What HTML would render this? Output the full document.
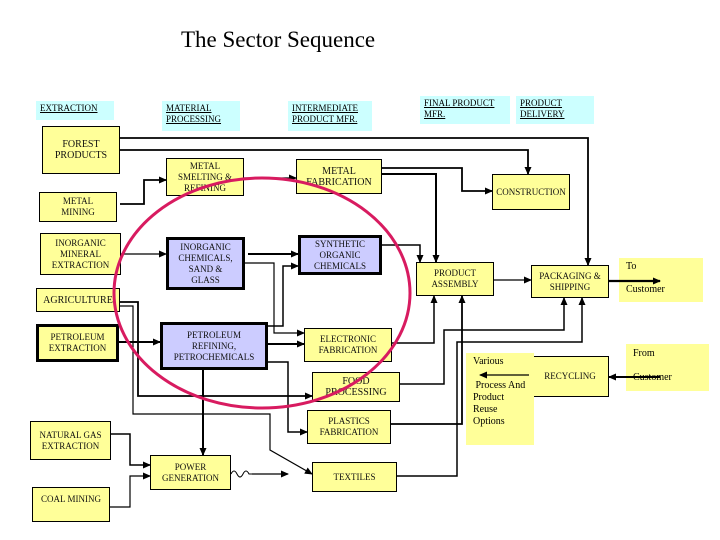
<!DOCTYPE html>
<html><head><meta charset="utf-8"><style>
body{margin:0;width:720px;height:540px;background:#fff;position:relative;overflow:hidden;font-family:"Liberation Serif",serif;}
.b{position:absolute;box-sizing:border-box;background:#ffff99;border:1px solid #000;font-size:9px;line-height:11px;text-align:center;display:flex;align-items:center;justify-content:center;color:#111;}
.p{background:#ccccff;border:3px solid #000;}
.t{border-width:3px;}
.h{position:absolute;background:#ccffff;font-size:9px;line-height:11px;text-decoration:underline;padding:2px 4px;box-sizing:border-box;}
.n{position:absolute;background:#ffff99;font-size:10px;line-height:12px;box-sizing:border-box;}
svg{position:absolute;left:0;top:0;}
</style></head><body>
<div style="position:absolute;left:181px;top:27px;font-size:23px;">The Sector Sequence</div>
<div class="h" style="left:36px;top:101px;width:78px;height:19px;">EXTRACTION</div>
<div class="h" style="left:162px;top:101px;width:78px;height:30px;">MATERIAL PROCESSING</div>
<div class="h" style="left:288px;top:101px;width:84px;height:30px;">INTERMEDIATE PRODUCT MFR.</div>
<div class="h" style="left:420px;top:96px;width:90px;height:28px;">FINAL PRODUCT MFR.</div>
<div class="h" style="left:516px;top:96px;width:78px;height:28px;">PRODUCT DELIVERY</div>

<div class="b" style="left:42px;top:126px;width:78px;height:48px;font-size:10px;">FOREST<br>PRODUCTS</div>
<div class="b" style="left:39px;top:192px;width:78px;height:30px;">METAL<br>MINING</div>
<div class="b" style="left:40px;top:233px;width:81px;height:42px;">INORGANIC<br>MINERAL<br>EXTRACTION</div>
<div class="b" style="left:36px;top:288px;width:84px;height:24px;font-size:10px;">AGRICULTURE</div>
<div class="b t" style="left:36px;top:324px;width:83px;height:38px;">PETROLEUM<br>EXTRACTION</div>
<div class="b" style="left:30px;top:421px;width:81px;height:39px;">NATURAL GAS<br>EXTRACTION</div>
<div class="b" style="left:32px;top:487px;width:78px;height:35px;align-items:flex-start;padding-top:6px;">COAL MINING</div>
<div class="b" style="left:166px;top:158px;width:78px;height:38px;">METAL<br>SMELTING &amp;<br>REFINING</div>
<div class="b p" style="left:166px;top:237px;width:79px;height:53px;">INORGANIC<br>CHEMICALS,<br>SAND &amp;<br>GLASS</div>
<div class="b p" style="left:160px;top:322px;width:108px;height:48px;">PETROLEUM<br>REFINING,<br>PETROCHEMICALS</div>
<div class="b" style="left:150px;top:455px;width:81px;height:35px;">POWER<br>GENERATION</div>
<div class="b" style="left:296px;top:159px;width:86px;height:35px;font-size:10px;">METAL<br>FABRICATION</div>
<div class="b p" style="left:298px;top:235px;width:84px;height:40px;">SYNTHETIC<br>ORGANIC<br>CHEMICALS</div>
<div class="b" style="left:304px;top:328px;width:88px;height:34px;">ELECTRONIC<br>FABRICATION</div>
<div class="b" style="left:312px;top:372px;width:88px;height:30px;font-size:10px;">FOOD<br>PROCESSING</div>
<div class="b" style="left:307px;top:410px;width:84px;height:34px;">PLASTICS<br>FABRICATION</div>
<div class="b" style="left:312px;top:462px;width:85px;height:30px;">TEXTILES</div>
<div class="b" style="left:492px;top:174px;width:78px;height:36px;">CONSTRUCTION</div>
<div class="b" style="left:416px;top:262px;width:78px;height:34px;">PRODUCT<br>ASSEMBLY</div>
<div class="b" style="left:531px;top:265px;width:78px;height:33px;">PACKAGING &amp;<br>SHIPPING</div>
<div class="b" style="left:531px;top:356px;width:78px;height:41px;">RECYCLING</div>
<div class="n" style="left:619px;top:258px;width:84px;height:44px;padding:3px 7px;">To<br><br><span style="position:relative;top:-1px">Customer</span></div>
<div class="n" style="left:466px;top:353px;width:68px;height:92px;padding:3px 7px;">Various<br><br>&nbsp;Process And<br>Product<br>Reuse<br>Options</div>
<div class="n" style="left:626px;top:344px;width:83px;height:47px;padding:4px 7px;">From<br><br>Customer</div>

<svg width="720" height="540" viewBox="0 0 720 540">
<defs><marker id="a" markerWidth="8" markerHeight="8" refX="7" refY="4" orient="auto" markerUnits="userSpaceOnUse"><path d="M0,0.5 L8,4 L0,7.5z" fill="#000"/></marker></defs>
<g fill="none" stroke="#000" stroke-width="1.2" marker-end="url(#a)">
<polyline points="120,138 588,138 588,265" stroke-width="1.8"/>
<polyline points="120,150 528,150 528,174" stroke-width="1.8"/>
<polyline points="120,204 144,204 144,180 166,180" stroke-width="1.8"/>
<polyline points="244,178 296,178"/>
<polyline points="382,168 462,168 462,191 492,191" stroke-width="1.8"/>
<polyline points="382,174 436,174 436,262" stroke-width="2"/>
<polyline points="121,254 166,254"/>
<polyline points="248,254 298,254" stroke-width="2"/>
<polyline points="245,263 274,263 274,333 304,333"/>
<polyline points="268,326 283,326 283,266 298,266" stroke-width="1.5"/>
<polyline points="382,245 420,245 420,262" stroke-width="1.5"/>
<polyline points="494,280 531,280"/>
<polyline points="609,281 660,281" stroke-width="2.2"/>
<polyline points="119,342 160,342" stroke-width="2"/>
<polyline points="268,344 304,344" stroke-width="2"/>
<polyline points="268,362 288,362 288,432 307,432" stroke-width="1.5"/>
<polyline points="203,370 203,455" stroke-width="2"/>
<polyline points="120,302 138,302 138,396 312,396" stroke-width="1.8"/>
<polyline points="120,306 133,306 133,414 270,414 270,450 312,474" stroke-width="1.2"/>
<polyline points="111,434 130,434 130,465 150,465" stroke-width="1.5"/>
<polyline points="110,507 130,507 130,476 150,476"/>
<polyline points="252,474 288,474"/>
<polyline points="392,343 434,343 434,296" stroke-width="1.5"/>
<polyline points="400,384 444,384 444,330 564,330 564,298" stroke-width="1.5"/>
<polyline points="391,424 462,424 462,296" stroke-width="1.8"/>
<polyline points="397,476 457,476 457,342 582,342 582,298" stroke-width="1.5"/>
<polyline points="529,375 480,375"/>
<polyline points="660,377 609,377" stroke-width="2"/>
</g>
<path d="M231,474 q3,-6 6,0 t6,0 t6,0 l3,0" fill="none" stroke="#000" stroke-width="1"/>
<ellipse cx="262" cy="293" rx="148" ry="115" fill="none" stroke="#d81b60" stroke-width="3"/>
</svg>
</body></html>
